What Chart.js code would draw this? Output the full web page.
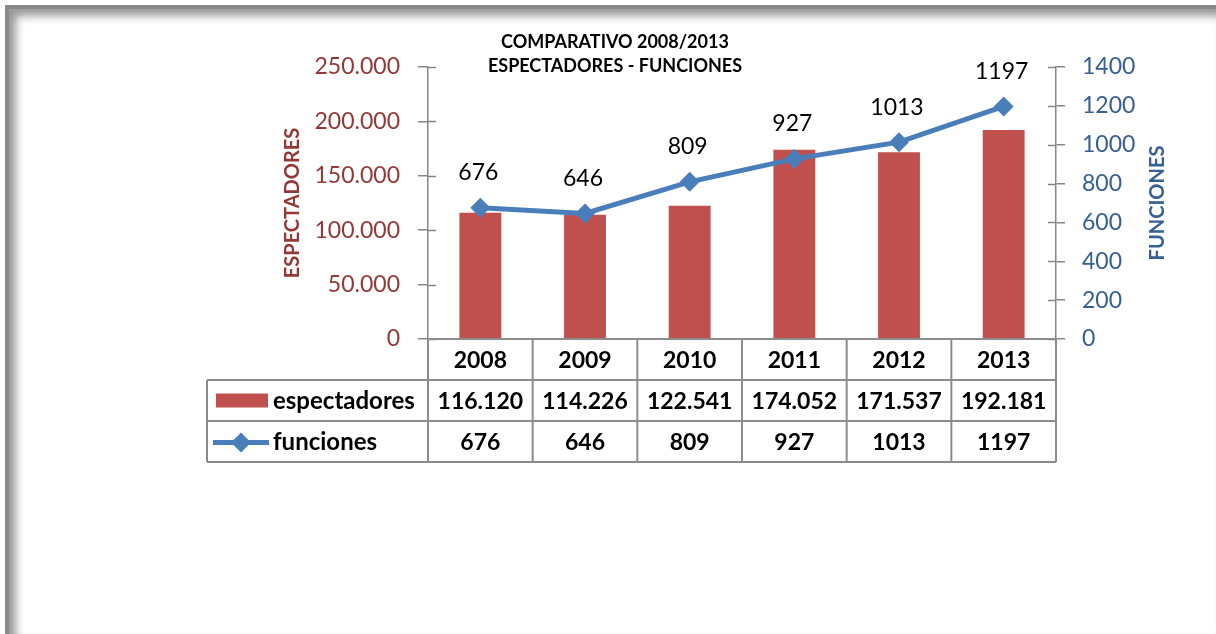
<!DOCTYPE html>
<html lang="es">
<head>
  <meta charset="UTF-8">
  <title>Comparativo 2008/2013</title>
  <script src="https://cdn.jsdelivr.net/npm/chart.js"></script>
  <style>
    body {
      margin: 0;
      padding: 0;
      background: white;
      font-family: Lato, sans-serif;
    }
    .marco {
      position: absolute;
      left: 5px;
      top: 5px;
      right: 0;
      bottom: 0;
      border-left: 4px solid #8a8a8a;
      border-top: 4px solid #8a8a8a;
      box-shadow: inset 7px 7px 9px #9a9a9a;
    }
    canvas {
      position: absolute;
      left: 0;
      top: 0;
    }
  </style>
</head>
<body>
  <div class="marco"></div>
  <canvas id="grafico" width="1216" height="634"></canvas>

  <script>
    const anios = ['2008', '2009', '2010', '2011', '2012', '2013'];
    const espectadores = [116120, 114226, 122541, 174052, 171537, 192181];
    const funciones = [676, 646, 809, 927, 1013, 1197];
    const titulo = ['COMPARATIVO 2008/2013', 'ESPECTADORES - FUNCIONES'];

    const rojo = '#C0504D';
    const azul = '#4A7EBB';
    const rojoTexto = '#953735';
    const azulTexto = '#376092';
    const gris = '#868686';

    // 116120 -> "116.120"
    function puntos(v) {
      return String(v).replace(/\B(?=(\d{3})+(?!\d))/g, '.');
    }

    const extras = {
      id: 'extras',
      afterDraw(chart) {
        const ctx = chart.ctx;
        const area = chart.chartArea;
        const x = chart.scales.x;
        const yl = chart.scales.y;
        const yr = chart.scales.y1;
        ctx.save();

        // marcas hacia dentro de los ejes
        ctx.strokeStyle = gris;
        ctx.lineWidth = 1.5;
        yl.ticks.forEach(t => {
          const py = Math.round(yl.getPixelForValue(t.value)) + 0.5;
          ctx.beginPath(); ctx.moveTo(area.left, py); ctx.lineTo(area.left + 8, py); ctx.stroke();
        });
        yr.ticks.forEach(t => {
          const py = Math.round(yr.getPixelForValue(t.value)) + 0.5;
          ctx.beginPath(); ctx.moveTo(area.right - 8, py); ctx.lineTo(area.right, py); ctx.stroke();
        });

        // titulo del eje derecho, leido de abajo hacia arriba como el izquierdo
        ctx.save();
        ctx.translate(1158, (area.top + area.bottom) / 2);
        ctx.rotate(-Math.PI / 2);
        ctx.fillStyle = azulTexto;
        ctx.font = 'bold 20px Lato';
        ctx.textAlign = 'center';
        ctx.textBaseline = 'middle';
        ctx.fillText('FUNCIONES', 0, 0);
        ctx.restore();

        // titulo
        ctx.fillStyle = '#000';
        ctx.font = 'bold 18px Lato';
        ctx.textAlign = 'center';
        ctx.textBaseline = 'middle';
        ctx.fillText(titulo[0], 615, 42);
        ctx.fillText(titulo[1], 615, 66);

        // etiquetas de la linea
        ctx.font = '23px Lato';
        const meta = chart.getDatasetMeta(1);
        meta.data.forEach((p, i) => {
          ctx.fillText(String(funciones[i]), p.x - 2, p.y - 35);
        });

        // tabla de datos
        const fila0 = area.bottom;
        const alto = 41;
        const izq = 207;
        const ancho = (x.getPixelForValue(1) - x.getPixelForValue(0));
        const bordes = anios.map((a, i) => x.getPixelForValue(i) - ancho / 2);
        bordes.push(area.right);

        ctx.strokeStyle = '#8c8c8c';
        ctx.lineWidth = 2;
        ctx.beginPath();
        ctx.moveTo(area.left, fila0); ctx.lineTo(area.right, fila0);
        for (let r = 1; r <= 3; r++) {
          ctx.moveTo(izq, fila0 + r * alto); ctx.lineTo(area.right, fila0 + r * alto);
        }
        ctx.moveTo(izq, fila0 + alto); ctx.lineTo(izq, fila0 + 3 * alto);
        bordes.forEach(bx => { ctx.moveTo(bx, fila0); ctx.lineTo(bx, fila0 + 3 * alto); });
        ctx.stroke();

        ctx.fillStyle = '#000';
        ctx.font = 'bold 23px Lato';
        ctx.textAlign = 'center';
        anios.forEach((a, i) => {
          const cx = x.getPixelForValue(i);
          ctx.fillText(a, cx, fila0 + alto / 2 + 1);
          ctx.fillText(puntos(espectadores[i]), cx, fila0 + alto * 1.5 + 1);
          ctx.fillText(String(funciones[i]), cx, fila0 + alto * 2.5 + 1);
        });

        // leyenda dentro de la tabla
        ctx.textAlign = 'left';
        ctx.font = 'bold 24px Lato';
        ctx.fillText('espectadores', 273, fila0 + alto * 1.5 + 1);
        ctx.fillText('funciones', 273, fila0 + alto * 2.5 + 1);
        ctx.fillStyle = rojo;
        ctx.fillRect(216, fila0 + alto * 1.5 - 7, 52, 14);
        const ly = fila0 + alto * 2.5 + 1;
        ctx.strokeStyle = azul;
        ctx.lineWidth = 5;
        ctx.beginPath(); ctx.moveTo(213, ly); ctx.lineTo(269, ly); ctx.stroke();
        ctx.fillStyle = azul;
        ctx.beginPath();
        ctx.moveTo(241, ly - 10); ctx.lineTo(251, ly); ctx.lineTo(241, ly + 10); ctx.lineTo(231, ly);
        ctx.closePath(); ctx.fill();

        ctx.restore();
      }
    };

    const ctx = document.getElementById('grafico').getContext('2d');

    const chart = new Chart(ctx, {
      data: {
        labels: anios,
        datasets: [{
          type: 'bar',
          label: 'espectadores',
          data: espectadores,
          backgroundColor: rojo,
          yAxisID: 'y',
          categoryPercentage: 1,
          barPercentage: 0.4,
          order: 2
        }, {
          type: 'line',
          label: 'funciones',
          data: funciones,
          borderColor: azul,
          backgroundColor: azul,
          borderWidth: 5,
          pointStyle: 'rectRot',
          pointRadius: 10,
          pointBackgroundColor: azul,
          pointBorderColor: azul,
          pointBorderWidth: 0,
          tension: 0,
          yAxisID: 'y1',
          order: 1
        }]
      },
      options: {
        responsive: false,
        animation: false,
        layout: {
          padding: { left: 280, right: 47, top: 67, bottom: 295 }
        },
        plugins: {
          legend: { display: false },
          tooltip: { enabled: false }
        },
        scales: {
          x: {
            display: false
          },
          y: {
            position: 'left',
            min: 0,
            max: 250000,
            afterFit: s => { s.width = 148; },
            border: { display: true, color: gris, width: 1.5 },
            grid: { drawOnChartArea: false, drawTicks: true, tickLength: 10, color: gris, lineWidth: 1.5 },
            ticks: {
              stepSize: 50000,
              padding: 18,
              color: rojoTexto,
              font: { family: 'Lato', size: 23 },
              callback: v => puntos(v)
            },
            title: {
              display: true,
              text: 'ESPECTADORES',
              color: rojoTexto,
              font: { family: 'Lato', size: 20, weight: 'bold' },
              padding: { top: 1, bottom: 0 }
            }
          },
          y1: {
            position: 'right',
            min: 0,
            max: 1400,
            afterFit: s => { s.width = 113; },
            border: { display: true, color: gris, width: 1.5 },
            grid: { drawOnChartArea: false, drawTicks: true, tickLength: 9, color: gris, lineWidth: 1.5 },
            ticks: {
              stepSize: 200,
              padding: 17,
              color: azulTexto,
              font: { family: 'Lato', size: 23 },
              callback: v => String(v)
            }
          }
        }
      },
      plugins: [extras]
    });
  </script>
</body>
</html>
